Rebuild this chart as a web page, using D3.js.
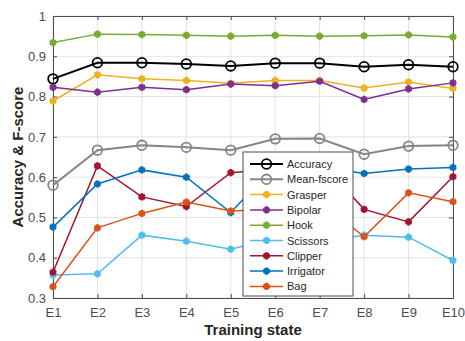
<!DOCTYPE html>
<html>
<head>
<meta charset="utf-8">
<script src="https://cdn.jsdelivr.net/npm/d3@7"></script>
<style>
  html, body { margin: 0; padding: 0; background: #fff; }
  svg { display: block; font-family: "Liberation Sans", Arial, sans-serif; }
</style>
</head>
<body>
<svg id="chart" width="465" height="341"></svg>
<script>
// Training states along the x axis
const states = ["E1", "E2", "E3", "E4", "E5", "E6", "E7", "E8", "E9", "E10"];
const yTicks = [0.3, 0.4, 0.5, 0.6, 0.7, 0.8, 0.9, 1];

// Per-state scores
const accuracy   = [0.844, 0.884, 0.884, 0.881, 0.876, 0.883, 0.883, 0.874, 0.879, 0.874];
const meanFscore = [0.580, 0.667, 0.679, 0.674, 0.667, 0.695, 0.696, 0.657, 0.677, 0.679];
const grasper    = [0.789, 0.854, 0.844, 0.840, 0.833, 0.840, 0.840, 0.821, 0.836, 0.820];
const bipolar    = [0.823, 0.811, 0.823, 0.817, 0.831, 0.827, 0.838, 0.793, 0.819, 0.834];
const hook       = [0.934, 0.955, 0.954, 0.952, 0.950, 0.952, 0.950, 0.951, 0.953, 0.948];
const scissors   = [0.357, 0.360, 0.456, 0.441, 0.421, 0.448, 0.440, 0.456, 0.451, 0.393];
const clipper    = [0.364, 0.628, 0.551, 0.527, 0.611, 0.620, 0.640, 0.520, 0.489, 0.601];
const irrigator  = [0.476, 0.583, 0.618, 0.600, 0.512, 0.630, 0.625, 0.609, 0.620, 0.624];
const bag        = [0.328, 0.474, 0.510, 0.538, 0.516, 0.520, 0.540, 0.452, 0.561, 0.539];

const series = [
  { name: "Accuracy",    values: accuracy,   color: "#000000", marker: "circle", width: 2 },
  { name: "Mean-fscore", values: meanFscore, color: "#858585", marker: "circle", width: 2 },
  { name: "Grasper",     values: grasper,    color: "#EDB120", marker: "star",   width: 1.5 },
  { name: "Bipolar",     values: bipolar,    color: "#7E2F8E", marker: "star",   width: 1.5 },
  { name: "Hook",        values: hook,       color: "#77AC30", marker: "star",   width: 1.5 },
  { name: "Scissors",    values: scissors,   color: "#4DBEEE", marker: "star",   width: 1.5 },
  { name: "Clipper",     values: clipper,    color: "#A2142F", marker: "star",   width: 1.5 },
  { name: "Irrigator",   values: irrigator,  color: "#0072BD", marker: "star",   width: 1.5 },
  { name: "Bag",         values: bag,        color: "#D95319", marker: "star",   width: 1.5 }
];

const svg = d3.select("#chart");
const plotL = 53, plotR = 453, plotT = 16, plotB = 298;
const axisColor = "#4d4d4d";

const x = d3.scalePoint().domain(states).range([plotL, plotR]);
const y = d3.scaleLinear().domain([0.3, 1]).range([plotB, plotT]);

// Grid
const grid = svg.append("g");
grid.selectAll("line.v").data(states).join("line")
  .attr("x1", d => x(d)).attr("x2", d => x(d))
  .attr("y1", plotT).attr("y2", plotB)
  .attr("stroke", "#e3e3e3").attr("stroke-width", 1);
grid.selectAll("line.h").data(yTicks).join("line")
  .attr("x1", plotL).attr("x2", plotR)
  .attr("y1", d => y(d)).attr("y2", d => y(d))
  .attr("stroke", "#e3e3e3").attr("stroke-width", 1);

// Axes with inward ticks
const xAxis = d3.axisBottom(x).tickSizeInner(-4).tickSizeOuter(0).tickPadding(10);
const yAxis = d3.axisLeft(y).tickValues(yTicks).tickFormat(d3.format("~g")).tickSizeInner(-4).tickSizeOuter(0).tickPadding(7);

const gx = svg.append("g").attr("transform", `translate(0,${plotB})`).call(xAxis);
const gy = svg.append("g").attr("transform", `translate(${plotL},0)`).call(yAxis);
const gxTop = svg.append("g").attr("transform", `translate(0,${plotT})`)
  .call(d3.axisTop(x).tickSizeInner(-4).tickSizeOuter(0).tickFormat(""));
const gyRight = svg.append("g").attr("transform", `translate(${plotR},0)`)
  .call(d3.axisRight(y).tickValues(yTicks).tickSizeInner(-4).tickSizeOuter(0).tickFormat(""));

[gx, gy, gxTop, gyRight].forEach(g => {
  g.select(".domain").attr("stroke", axisColor);
  g.selectAll(".tick line").attr("stroke", axisColor);
  g.selectAll(".tick text").attr("fill", axisColor)
    .style("font-size", "13px").style("font-family", "Liberation Sans, Arial, sans-serif");
});

// Axis titles
svg.append("text")
  .attr("x", (plotL + plotR) / 2).attr("y", 335)
  .attr("text-anchor", "middle")
  .attr("fill", "#262626")
  .style("font-size", "15px").style("font-weight", "bold")
  .text("Training state");
svg.append("text")
  .attr("transform", `translate(23,${(plotT + plotB) / 2}) rotate(-90)`)
  .attr("text-anchor", "middle")
  .attr("fill", "#262626")
  .style("font-size", "15px").style("font-weight", "bold")
  .text("Accuracy & F-score");

// Markers
const starPath = d3.symbol().type(d3.symbolAsterisk).size(36)();
function drawMarker(g, s, cx, cy) {
  if (s.marker === "circle") {
    g.append("circle").attr("cx", cx).attr("cy", cy).attr("r", 4.8)
      .attr("fill", "none").attr("stroke", s.color).attr("stroke-width", 1.8);
  } else {
    g.append("path").attr("d", starPath)
      .attr("transform", `translate(${cx},${cy})`)
      .attr("fill", "none").attr("stroke", s.color).attr("stroke-width", 2.8);
  }
}

// Series lines
const line = d3.line().x((d, i) => x(states[i])).y(d => y(d));
series.forEach(s => {
  const g = svg.append("g");
  g.append("path").datum(s.values)
    .attr("d", line)
    .attr("fill", "none")
    .attr("stroke", s.color)
    .attr("stroke-width", s.width);
  s.values.forEach((v, i) => drawMarker(g, s, x(states[i]), y(v)));
});

// Legend
const lgX = 243, lgY = 152, lgW = 110, lgH = 144, rowH = 15.3;
const legend = svg.append("g");
legend.append("rect")
  .attr("x", lgX).attr("y", lgY).attr("width", lgW).attr("height", lgH)
  .attr("fill", "#fff").attr("stroke", axisColor).attr("stroke-width", 1);
series.forEach((s, i) => {
  const cy = lgY + 12 + i * rowH;
  legend.append("line")
    .attr("x1", lgX + 7).attr("x2", lgX + 40)
    .attr("y1", cy).attr("y2", cy)
    .attr("stroke", s.color).attr("stroke-width", s.width);
  drawMarker(legend, s, lgX + 23.5, cy);
  legend.append("text")
    .attr("x", lgX + 44).attr("y", cy + 4)
    .attr("fill", "#262626")
    .style("font-size", "11px")
    .text(s.name);
});
</script>
</body>
</html>
